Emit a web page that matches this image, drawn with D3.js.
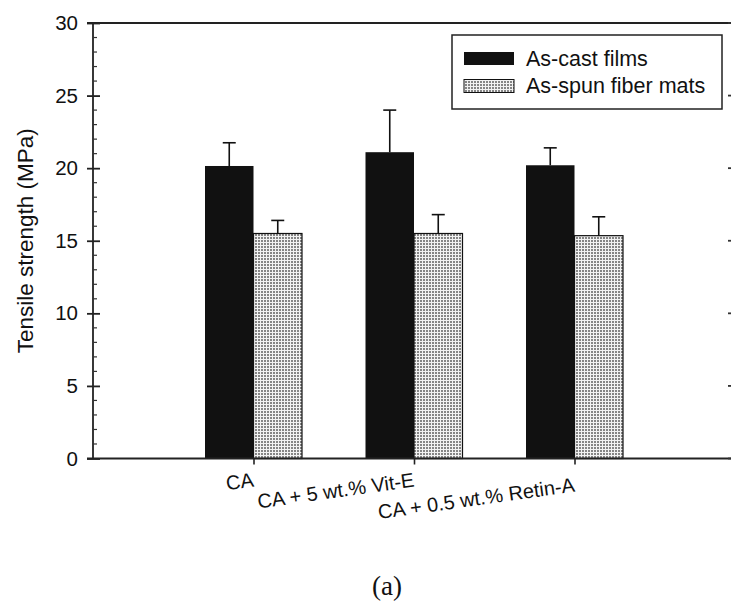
<!DOCTYPE html>
<html>
<head>
<meta charset="utf-8">
<script src="https://cdn.jsdelivr.net/npm/d3@7/dist/d3.min.js"></script>
<style>
  html, body { margin: 0; padding: 0; background: #fff; }
  svg { display: block; }
  text { font-family: "Liberation Sans", Arial, sans-serif; fill: #111; }
  text.caption { font-family: "Liberation Serif", "Times New Roman", serif; }
</style>
</head>
<body>
<svg id="chart" width="731" height="603"></svg>
<script>
// Tensile strength of cast films vs. electrospun fiber mats
const categories = ["CA", "CA + 5 wt.% Vit-E", "CA + 0.5 wt.% Retin-A"];
const seriesNames = ["As-cast films", "As-spun fiber mats"];
const castValues = [20.15, 21.1, 20.2];
const castErrors = [1.6, 2.9, 1.2];
const spunValues = [15.5, 15.5, 15.35];
const spunErrors = [0.9, 1.3, 1.3];
const yTicks = [0, 5, 10, 15, 20, 25, 30];
const yMinorTicks = d3.range(0, 31, 1);

const svg = d3.select("#chart");
const ink = "#111";

const plotL = 93, plotR = 735, plotT = 23, plotB = 458.5;
const y = d3.scaleLinear().domain([0, 30]).range([plotB, plotT]);
const x = d3.scalePoint().domain(categories).range([plotL, plotR]).padding(1);
const barW = 48.5;

// stipple fill for the fiber-mat bars
const defs = svg.append("defs");
const pat = defs.append("pattern")
  .attr("id", "stipple").attr("patternUnits", "userSpaceOnUse")
  .attr("width", 3).attr("height", 3);
pat.append("rect").attr("width", 3).attr("height", 3).attr("fill", "#f2f2f2");
pat.append("rect").attr("width", 2).attr("height", 2).attr("fill", "#858585");

const rows = categories.map((c, i) => ({
  cat: c,
  cast: castValues[i], castErr: castErrors[i],
  spun: spunValues[i], spunErr: spunErrors[i]
}));

// bars
const g = svg.append("g");
g.selectAll("rect.cast").data(rows).join("rect")
  .attr("class", "cast")
  .attr("x", d => x(d.cat) - barW).attr("width", barW)
  .attr("y", d => y(d.cast)).attr("height", d => y(0) - y(d.cast))
  .attr("fill", ink);
g.selectAll("rect.spun").data(rows).join("rect")
  .attr("class", "spun")
  .attr("x", d => x(d.cat)).attr("width", barW)
  .attr("y", d => y(d.spun)).attr("height", d => y(0) - y(d.spun))
  .attr("fill", "url(#stipple)").attr("stroke", ink).attr("stroke-width", 1.2);

// upper error bars
const errs = [];
rows.forEach(d => {
  errs.push({ cx: x(d.cat) - barW / 2, v: d.cast, e: d.castErr });
  errs.push({ cx: x(d.cat) + barW / 2, v: d.spun, e: d.spunErr });
});
const eg = svg.append("g").attr("stroke", ink).attr("stroke-width", 1.6);
eg.selectAll("line.stem").data(errs).join("line")
  .attr("class", "stem")
  .attr("x1", d => d.cx).attr("x2", d => d.cx)
  .attr("y1", d => y(d.v)).attr("y2", d => y(d.v + d.e));
eg.selectAll("line.cap").data(errs).join("line")
  .attr("class", "cap")
  .attr("x1", d => d.cx - 6.5).attr("x2", d => d.cx + 6.5)
  .attr("y1", d => y(d.v + d.e)).attr("y2", d => y(d.v + d.e));

// frame
const fr = svg.append("g").attr("stroke", "#222").attr("stroke-width", 1.8).attr("fill", "none");
fr.append("line").attr("x1", plotL).attr("x2", plotL).attr("y1", plotT).attr("y2", plotB);
fr.append("line").attr("x1", plotR).attr("x2", plotR).attr("y1", plotT).attr("y2", plotB);
fr.append("line").attr("x1", plotL - 6).attr("x2", plotR + 6).attr("y1", plotB).attr("y2", plotB);
fr.append("line").attr("x1", plotL - 6).attr("x2", plotR + 6).attr("y1", plotT).attr("y2", plotT);

// y axis: major ticks cross the spine, minor ticks point inward
const yAxis = d3.axisLeft(y).tickValues(yTicks).tickSize(6).tickPadding(9);
const ya = svg.append("g").attr("transform", `translate(${plotL},0)`).call(yAxis);
ya.select(".domain").remove();
ya.selectAll(".tick line").attr("stroke", "#222").attr("stroke-width", 1.8).attr("x2", -6).attr("x1", 7);
ya.selectAll(".tick text").style("font-size", "20.5px").attr("fill", ink);

const minorVals = yMinorTicks.filter(v => v % 5 !== 0);
const minor = svg.append("g").attr("stroke", "#333").attr("stroke-width", 1.2);
minor.selectAll("line.l").data(minorVals).join("line")
  .attr("class", "l")
  .attr("x1", plotL).attr("x2", plotL + 4).attr("y1", d => y(d)).attr("y2", d => y(d));
minor.selectAll("line.r").data(minorVals).join("line")
  .attr("class", "r")
  .attr("x1", plotR).attr("x2", plotR - 4).attr("y1", d => y(d)).attr("y2", d => y(d));
minor.selectAll("line.rm").data(yTicks).join("line")
  .attr("class", "rm")
  .attr("stroke-width", 1.8)
  .attr("x1", plotR - 7).attr("x2", plotR + 6).attr("y1", d => y(d)).attr("y2", d => y(d));

// x axis ticks and slanted category labels
const xAxis = d3.axisBottom(x).tickSize(6).tickFormat("");
const xa = svg.append("g").attr("transform", `translate(0,${plotB})`).call(xAxis);
xa.select(".domain").remove();
xa.selectAll(".tick line").attr("stroke", "#222").attr("stroke-width", 1.6);
svg.append("g").selectAll("text").data(categories).join("text")
  .attr("text-anchor", "end")
  .style("font-size", "20px")
  .attr("transform", (d, i) => `translate(${x(d) + 1},${plotB + 28 + (i === 2 ? 5 : 0)}) rotate(-8)`)
  .text(d => d);

// y axis title
svg.append("text")
  .attr("transform", `translate(33,${(plotT + plotB) / 2}) rotate(-90)`)
  .attr("text-anchor", "middle").style("font-size", "22.5px")
  .text("Tensile strength (MPa)");

// legend
const lg = svg.append("g");
lg.append("rect").attr("x", 452).attr("y", 35).attr("width", 270).attr("height", 74)
  .attr("fill", "#fff").attr("stroke", "#222").attr("stroke-width", 1.5);
const swatches = [{ fill: ink, stroke: "none" }, { fill: "url(#stipple)", stroke: ink }];
lg.selectAll("rect.sw").data(seriesNames).join("rect")
  .attr("class", "sw")
  .attr("x", 464).attr("width", 50)
  .attr("y", (d, i) => 52 + i * 27.5).attr("height", 13)
  .attr("fill", (d, i) => swatches[i].fill).attr("stroke", (d, i) => swatches[i].stroke);
lg.selectAll("text").data(seriesNames).join("text")
  .attr("x", 526).attr("y", (d, i) => 66 + i * 26.5)
  .style("font-size", "21.5px")
  .text(d => d);

// panel caption
svg.append("text")
  .attr("class", "caption")
  .attr("x", 387).attr("y", 595).attr("text-anchor", "middle")
  .style("font-size", "27px")
  .text("(a)");
</script>
</body>
</html>
